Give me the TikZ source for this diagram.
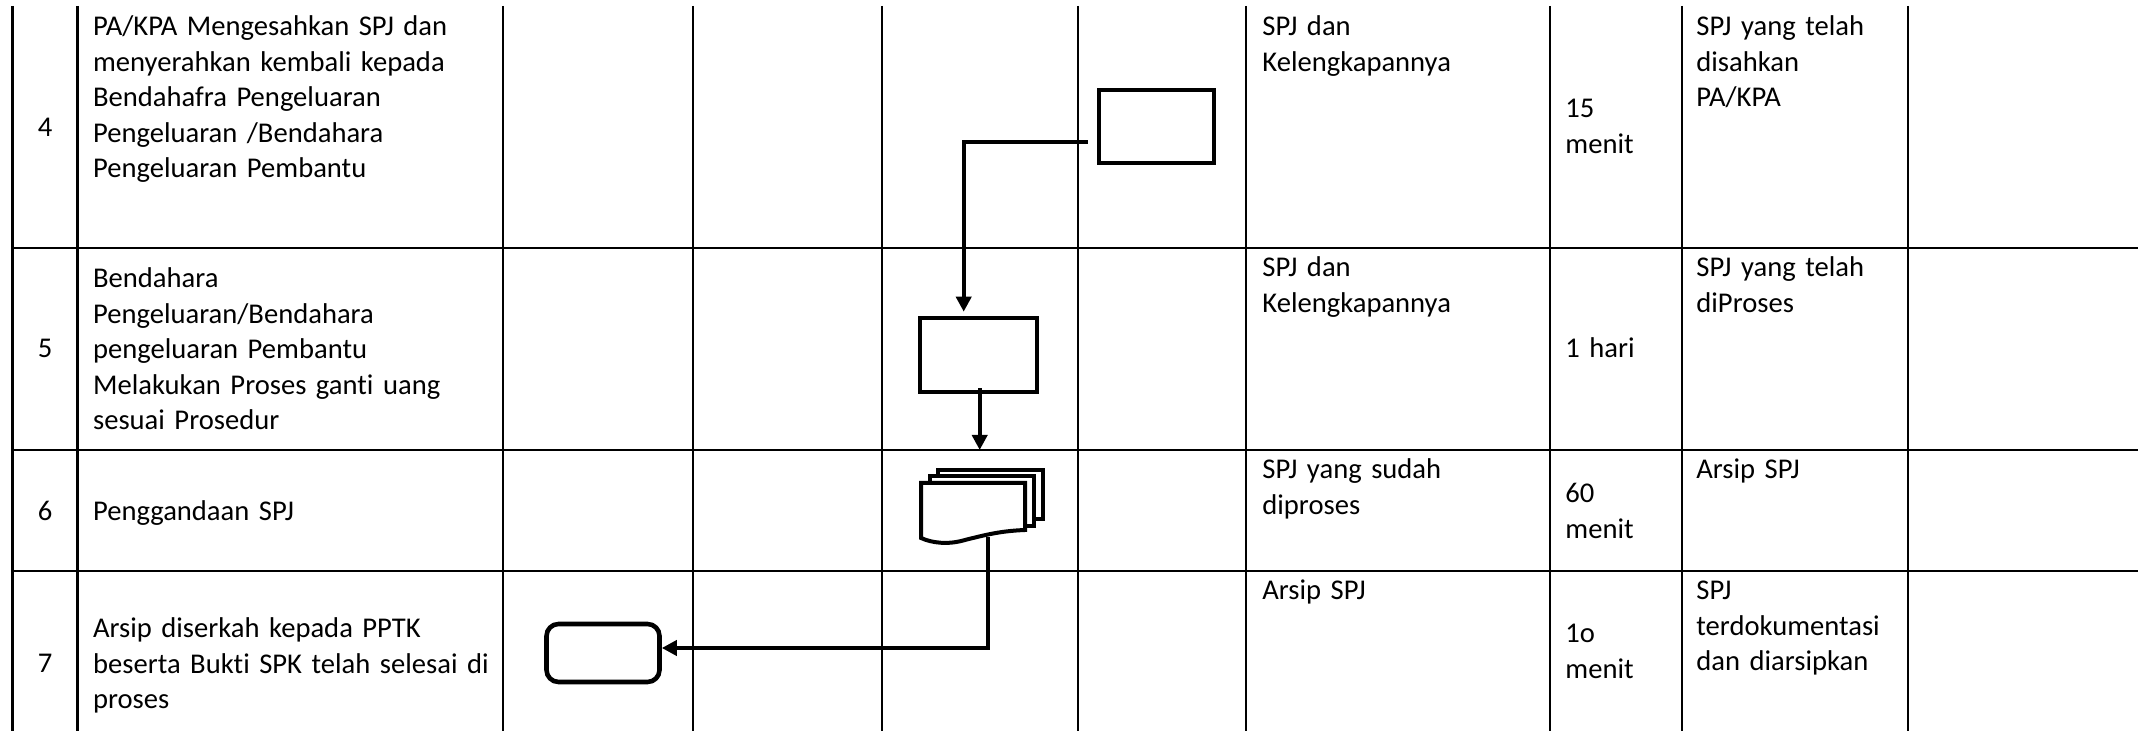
\documentclass[tikz,border=0pt]{standalone}
\usepackage{fontspec}
\setmainfont{Carlito}[Ligatures=NoCommon]
\usetikzlibrary{arrows.meta,calc}
\begin{document}
\begin{tikzpicture}[x=0.5pt,y=-0.5pt,
  grid/.style={line width=1.3pt},
  txt/.style={anchor=base west, inner sep=0pt, text width=#1, align=left, font=\fontsize{14.3}{17.75}\selectfont},
  txt/.default=150pt,
  num/.style={anchor=base, inner sep=0pt, font=\fontsize{14.3}{17.75}\selectfont},
  procbox/.style={draw, line width=2.3pt, fill=white, inner sep=0pt},
  sheet/.style={draw, line width=2pt, fill=white},
  conn/.style={line width=2.2pt, -{Triangle[length=7.5pt,width=7.5pt]}},
]
\useasboundingbox (0,0) rectangle (2138,731);
% table grid
\foreach \x in {12.7,77.3,503,693,882,1078,1246,1550,1682,1908}
  \draw[grid] (\x,6) -- (\x,731);
\foreach \y in {248,450,571}
  \draw[grid] (12.7,\y) -- (2138,\y);

% row 4
\node[num] (n4) at (45,137) {4};
\node[txt=200pt] (d4) at (92.7,36) {PA/KPA Mengesahkan SPJ dan\\ menyerahkan kembali kepada\\ Bendahafra Pengeluaran\\ Pengeluaran /Bendahara\\ Pengeluaran Pembantu};
\node[txt] (i4) at (1262,36) {SPJ dan\\ Kelengkapannya};
\node[txt=60pt] (w4) at (1565,118) {15\\ menit};
\node[txt=110pt] (o4) at (1696,36) {SPJ yang telah\\ disahkan\\ PA/KPA};

% row 5
\node[num] (n5) at (45,358) {5};
\node[txt=200pt] (d5) at (92.7,288) {Bendahara\\ Pengeluaran/Bendahara\\ pengeluaran Pembantu\\ Melakukan Proses ganti uang\\ sesuai Prosedur};
\node[txt] (i5) at (1262,277) {SPJ dan\\ Kelengkapannya};
\node[txt=60pt] (w5) at (1565,358) {1 hari};
\node[txt=110pt] (o5) at (1696,277) {SPJ yang telah\\ diProses};

% row 6
\node[num] (n6) at (45,521) {6};
\node[txt=200pt] (d6) at (92.7,521) {Penggandaan SPJ};
\node[txt] (i6) at (1262,479) {SPJ yang sudah\\ diproses};
\node[txt=60pt] (w6) at (1565,503) {60\\ menit};
\node[txt=110pt] (o6) at (1696,479) {Arsip SPJ};

% row 7
\node[num] (n7) at (45,673) {7};
\node[txt=200pt] (d7) at (92.7,638) {Arsip diserkah kepada PPTK\\ beserta Bukti SPK telah selesai di\\ proses};
\node[txt] (i7) at (1262,600) {Arsip SPJ};
\node[txt=60pt] (w7) at (1565,643) {1o\\ menit};
\node[txt=110pt] (o7) at (1696,600) {SPJ\\ terdokumentasi\\ dan diarsipkan};

% flow shapes
\node[procbox, minimum width=57.5pt, minimum height=36.5pt] (A) at (1156.5,126.5) {};
\node[procbox, minimum width=58.5pt, minimum height=37pt] (B) at (978.5,355) {};
\node[procbox, rounded corners=6pt, minimum width=56.5pt, minimum height=29pt] (D) at (603,653) {};

% multi-document
\draw[sheet] (937.5,470.5) rectangle (1042.5,519.5);
\draw[sheet] (929.5,476) rectangle (1033.5,526.5);
\draw[sheet] (921,483) -- (1025,483) -- (1025,530)
  .. controls (1000,531) and (985,535) .. (965,540)
  .. controls (948,545) and (932,543) .. (921,538) -- cycle;
\node[inner sep=0pt, minimum width=52pt, minimum height=27.5pt] (C) at (973,510.5) {};

% connectors
\coordinate (t5) at (979.7,450);
\draw[conn] ([shift={(-9,15.5)}]A.west) -| ([shift={(-14.8,-4)}]B.north);
\draw[conn] ([shift={(1.2,-6)}]B.south) -- (t5);
\draw[conn] ([shift={(15,-1)}]C.south) |- ([shift={(0,-5)}]D.east);
\end{tikzpicture}
\end{document}
